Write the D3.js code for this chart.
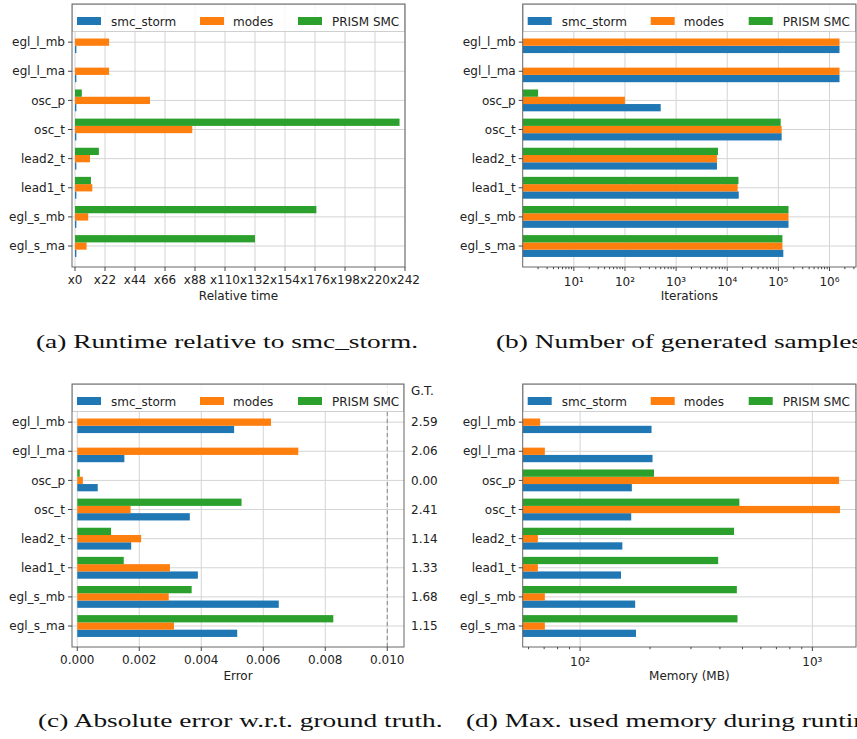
<!DOCTYPE html>
<html>
<head>
<meta charset="utf-8">
<script src="https://cdn.jsdelivr.net/npm/d3@7"></script>
<style>
  body { margin: 0; background: #fff; }
  text { font-family: "DejaVu Sans", sans-serif; fill: #222; }
  .caption { font-family: "Liberation Serif", "DejaVu Serif", serif; fill: #111; }
</style>
</head>
<body>
<svg id="chart" width="857" height="739"></svg>
<script>
// categories and series (null = tool gave no result)
const benchmarks = ['egl_l_mb', 'egl_l_ma', 'osc_p', 'osc_t', 'lead2_t', 'lead1_t', 'egl_s_mb', 'egl_s_ma'];
const tools = ['smc_storm', 'modes', 'PRISM SMC'];
const toolColors = ['#1f77b4', '#ff7f0e', '#2ca02c'];

// (a) runtime relative to smc_storm
const runtimeStorm = [1, 1, 1, 1, 1, 1, 1, 1];
const runtimeModes = [25, 25, 55, 86, 11, 12.7, 9.7, 8.5];
const runtimePrism = [null, null, 5, 238, 17.5, 11.7, 177, 132];
const runtimeTicks = [0, 22, 44, 66, 88, 110, 132, 154, 176, 198, 220, 242];

// (b) generated samples
const itersStorm = [1.57e6, 1.57e6, 500, 1.16e5, 6300, 1.68e4, 1.58e5, 1.25e5];
const itersModes = [1.57e6, 1.57e6, 100, 1.16e5, 6300, 1.6e4, 1.58e5, 1.2e5];
const itersPrism = [null, null, 2, 1.11e5, 6600, 1.66e4, 1.58e5, 1.2e5];
const itersTicks = [1e1, 1e2, 1e3, 1e4, 1e5, 1e6];

// (c) absolute error
const errorStorm = [0.00506, 0.00152, 0.00066, 0.00363, 0.00174, 0.00389, 0.0065, 0.00516];
const errorModes = [0.00625, 0.00713, 0.00018, 0.00172, 0.00206, 0.00299, 0.00295, 0.00312];
const errorPrism = [null, null, 0.00008, 0.0053, 0.00109, 0.0015, 0.00369, 0.00826];
const errorTicks = [0, 0.002, 0.004, 0.006, 0.008, 0.010];
const errorLimit = 0.01;
const groundTruth = ['2.59', '2.06', '0.00', '2.41', '1.14', '1.33', '1.68', '1.15'];

// (d) max memory
const memStorm = [203, 205, 167, 166, 152, 150, 172.6, 174];
const memModes = [67.3, 70.5, 1303, 1315, 65.8, 65.8, 70.5, 70.5];
const memPrism = [null, null, 208, 485, 460, 393, 473, 476];
const memTicks = [1e2, 1e3];

const captions = [
  '(a) Runtime relative to smc_storm.',
  '(b) Number of generated samples.',
  '(c) Absolute error w.r.t. ground truth.',
  '(d) Max. used memory during runtime.'
];

const svg = d3.select('#chart');
const superscripts = { '0': '⁰', '1': '¹', '2': '²', '3': '³', '4': '⁴', '5': '⁵', '6': '⁶' };

function drawPanel(opt) {
  const { left, right, top, bottom } = opt.box;
  const g = svg.append('g');
  const x = opt.x.range([left, right]);
  const y = d3.scaleLinear().domain([-1.31, 7.72]).range([top, bottom]);
  const barH = y(0.25) - y(0);
  const base = opt.log ? left : x(0);

  // grid
  g.append('g').selectAll('line').data(opt.ticks).enter().append('line')
    .attr('x1', d => x(d)).attr('x2', d => x(d))
    .attr('y1', top).attr('y2', bottom)
    .style('stroke', '#d4d4d4').style('stroke-width', 1);
  g.append('g').selectAll('line').data(benchmarks).enter().append('line')
    .attr('x1', left).attr('x2', right)
    .attr('y1', (d, i) => y(i)).attr('y2', (d, i) => y(i))
    .style('stroke', '#d4d4d4').style('stroke-width', 1);

  // bars: smc_storm below, modes centred, PRISM SMC above
  opt.series.forEach((vals, s) => {
    const off = [0.125, -0.125, -0.375][s];
    const pts = vals.map((v, i) => ({ v, i })).filter(d => d.v !== null);
    g.append('g').selectAll('rect').data(pts).enter()
      .append('rect')
      .attr('x', base)
      .attr('y', d => y(d.i + off))
      .attr('width', d => Math.max(0, x(d.v) - base))
      .attr('height', barH)
      .style('fill', toolColors[s]);
  });

  if (opt.extra) opt.extra(g, x, y);

  // legend
  const lg = g.append('g').attr('transform', `translate(${left},${top})`);
  lg.append('rect')
    .attr('x', 0.5).attr('y', 0.5)
    .attr('width', right - left - 1).attr('height', 27)
    .style('fill', 'white').style('fill-opacity', 0.82)
    .style('stroke', '#cfcfcf');
  const patchX = [5, 128, 226];
  const textX = [39, 161, 260];
  tools.forEach((t, i) => {
    lg.append('rect').attr('x', patchX[i]).attr('y', 13).attr('width', 24).attr('height', 8)
      .style('fill', toolColors[i]);
    lg.append('text').attr('x', textX[i]).attr('y', 21.5)
      .style('font-size', '12px').text(t);
  });

  // spines
  g.append('rect')
    .attr('x', left).attr('y', top).attr('width', right - left).attr('height', bottom - top)
    .style('fill', 'none').style('stroke', '#666').style('stroke-width', 1);

  // y axis
  const yAxis = g.append('g').attr('transform', `translate(${left},0)`);
  benchmarks.forEach((b, i) => {
    yAxis.append('line').attr('x1', -4).attr('x2', 0).attr('y1', y(i)).attr('y2', y(i))
      .style('stroke', '#444');
    yAxis.append('text').attr('x', -7).attr('y', y(i)).attr('dy', '0.35em')
      .attr('text-anchor', 'end').style('font-size', '12px').text(b);
  });

  // x axis
  const xAxis = g.append('g').attr('transform', `translate(0,${bottom})`);
  if (opt.log) {
    const [d0, d1] = x.domain();
    const minor = [];
    for (let e = Math.floor(Math.log10(d0)); e <= Math.ceil(Math.log10(d1)); e++) {
      for (let k = 2; k <= 9; k++) {
        const v = k * Math.pow(10, e);
        if (v > d0 && v < d1) minor.push(v);
      }
    }
    xAxis.selectAll('line').data(minor).enter().append('line')
      .attr('x1', d => x(d)).attr('x2', d => x(d)).attr('y1', 0).attr('y2', 2.2)
      .style('stroke', '#444');
  }
  opt.ticks.forEach(t => {
    xAxis.append('line').attr('x1', x(t)).attr('x2', x(t)).attr('y1', 0).attr('y2', 4)
      .style('stroke', '#444');
    const txt = xAxis.append('text').attr('x', x(t)).attr('y', 17)
      .attr('text-anchor', 'middle').style('font-size', '12px');
    if (opt.log) {
      const e = Math.round(Math.log10(t));
      txt.attr('y', 19).text('10' + superscripts[e]);
    } else {
      txt.text(opt.format(t));
    }
  });
  xAxis.append('text').attr('x', (left + right) / 2).attr('y', 33)
    .attr('text-anchor', 'middle').style('font-size', '12px').text(opt.label);
}

drawPanel({
  box: { left: 72, right: 405, top: 4, bottom: 267 },
  x: d3.scaleLinear().domain([-2.2, 242]),
  ticks: runtimeTicks,
  format: d => 'x' + d,
  series: [runtimeStorm, runtimeModes, runtimePrism],
  label: 'Relative time'
});

drawPanel({
  box: { left: 522.7, right: 856, top: 4, bottom: 267 },
  x: d3.scaleLog().domain([1, 3.3e6]),
  log: true,
  ticks: itersTicks,
  series: [itersStorm, itersModes, itersPrism],
  label: 'Iterations'
});

drawPanel({
  box: { left: 72, right: 404, top: 384, bottom: 647 },
  x: d3.scaleLinear().domain([-0.00017, 0.01054]),
  ticks: errorTicks,
  format: d3.format('.3f'),
  series: [errorStorm, errorModes, errorPrism],
  label: 'Error',
  extra: (g, x, y) => {
    g.append('line')
      .attr('x1', x(errorLimit)).attr('x2', x(errorLimit))
      .attr('y1', 384).attr('y2', 647)
      .style('stroke', '#888').style('stroke-width', 1)
      .style('stroke-dasharray', '4,3');
    g.append('text').attr('x', 411).attr('y', 391).attr('dy', '0.35em')
      .style('font-size', '12px').text('G.T.');
    groundTruth.forEach((v, i) => {
      g.append('text').attr('x', 411).attr('y', y(i)).attr('dy', '0.35em')
        .style('font-size', '12px').text(v);
    });
  }
});

drawPanel({
  box: { left: 522.7, right: 856, top: 384, bottom: 647 },
  x: d3.scaleLog().domain([56.6, 1541]),
  log: true,
  ticks: memTicks,
  series: [memStorm, memModes, memPrism],
  label: 'Memory (MB)'
});

// captions, stretched to the width of caption (a)
const capPos = [[36, 348], [496, 348], [38, 727], [466, 727]];
const capNodes = captions.map((c, i) => svg.append('text')
  .attr('class', 'caption')
  .attr('x', capPos[i][0]).attr('y', capPos[i][1])
  .style('font-size', '19px').text(c));
const stretch = 382 / capNodes[0].node().getComputedTextLength();
capNodes.forEach(n => {
  n.attr('textLength', n.node().getComputedTextLength() * stretch)
    .attr('lengthAdjust', 'spacingAndGlyphs');
});
</script>
</body>
</html>
